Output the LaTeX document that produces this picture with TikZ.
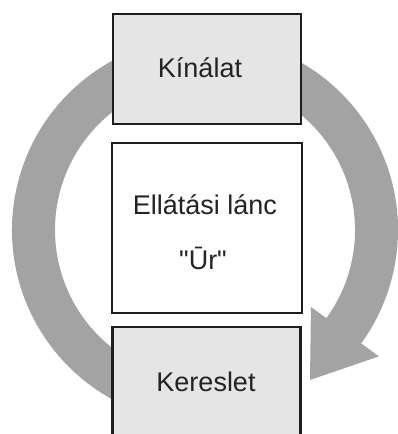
\documentclass[tikz,border=0pt]{standalone}
\usepackage{fontspec}
\setmainfont{Liberation Sans}
\usetikzlibrary{calc}
\definecolor{ringgray}{RGB}{163,163,163}
\definecolor{boxgray}{RGB}{229,229,229}
\definecolor{edgecol}{RGB}{30,30,30}
\definecolor{txtcol}{RGB}{35,35,35}
\tikzset{
  box/.style={draw=edgecol, line width=2.2pt, inner sep=0pt},
  lbl/.style={font=\fontsize{27}{32}\selectfont, text=txtcol, inner sep=0pt, anchor=base}
}
\begin{document}
\begin{tikzpicture}[x=1pt,y=1pt]
\useasboundingbox (0,0) rectangle (398,434);
\clip (0,0) rectangle (398,434);
\fill[white] (0,0) rectangle (398,434);
\coordinate (c) at (205,204);
\coordinate (tip) at (310,54);
\fill[ringgray] ($(c)+(-100:193pt)$) arc[start angle=-100,end angle=-396,radius=193pt]
  -- ($(c)+(-36:215pt)$) -- (tip) -- ($(c)+(-36:131pt)$) -- ($(c)+(-36:150pt)$)
  arc[start angle=-396,end angle=-100,radius=150pt] -- cycle;
\node[box, fill=boxgray, minimum width=188pt, minimum height=110pt] (top) at (207,365) {};
\node[box, fill=white, minimum width=190pt, minimum height=170pt] (mid) at (207,206) {};
\node[box, fill=boxgray, minimum width=188pt, minimum height=117pt] (bot) at (206.5,48.5) {};
\node[lbl] (kin) at (200,356) {Kínálat};
\node[lbl] (ell) at (205,219) {Ellátási lánc};
\node[lbl] (ur) at (203,164) {\textquotedbl Ūr\textquotedbl};
\node[lbl] (ker) at (206,42) {Kereslet};
\end{tikzpicture}
\end{document}
